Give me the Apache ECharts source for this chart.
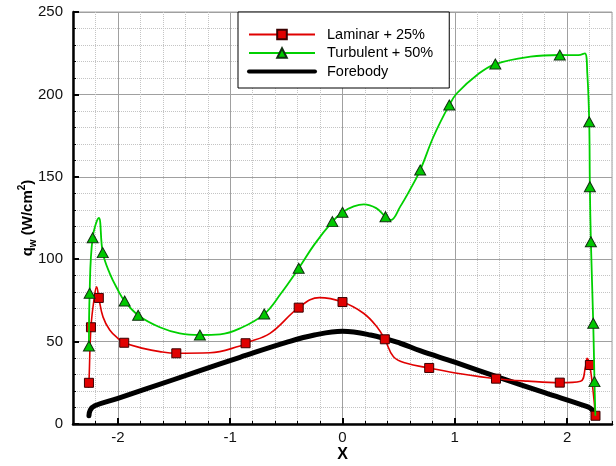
<!DOCTYPE html>
<html>
<head>
<meta charset="utf-8">
<script src="https://cdn.jsdelivr.net/npm/echarts@6/dist/echarts.min.js"></script>
<style>
  html, body { margin: 0; padding: 0; background: #fff; }
  #chart { width: 616px; height: 466px; }
</style>
</head>
<body>
<div id="chart"></div>
<script>
// Wall heat flux q_w along the body coordinate X

const xTicks = [-2, -1, 0, 1, 2];
const yTicks = [0, 50, 100, 150, 200, 250];

// Laminar + 25%: curve samples between stations, and the marked stations
const laminarX = [-2.262, -2.21, -2.19, -2.133, -2.073, -2.0, -1.776, -1.627, -1.18, -0.913, -0.646, -0.206, 0.187, 0.306, 0.454, 0.57, 1.05, 1.65, 2.12, 2.164, 2.179];
const laminarQ = [22, 77, 83.3, 65, 57, 52, 45.9, 43.9, 43.2, 47.3, 55, 76.7, 67.2, 59, 40.8, 36.8, 30.5, 26, 26, 34.8, 39.9];
const laminarMarkX = [-2.258, -2.24, -2.17, -1.944, -1.48, -0.863, -0.39, 0, 0.377, 0.772, 1.367, 1.935, 2.203, 2.253];
const laminarMarkQ = [25, 58.7, 76.5, 49.3, 42.9, 49, 70.6, 74, 51.4, 34, 27.5, 25.1, 35.8, 5];

// Turbulent + 50%
const turbX = [-2.17, -2.073, -2.0, -1.627, -1.449, -1.09, -0.913, -0.55, -0.25, 0.1, 0.19, 0.3, 0.43, 0.514, 0.6, 0.81, 1.019, 1.198, 1.673, 2.1, 2.158, 2.18, 2.252];
const turbQ = [125, 91.4, 81.3, 58.7, 55, 54.4, 58, 79, 109, 132, 133.3, 131, 123.8, 131.9, 142, 174.3, 200.7, 211.8, 222.9, 223.8, 224.9, 212.8, 5];
const turbMarkX = [-2.258, -2.252, -2.225, -2.135, -1.94, -1.82, -1.27, -0.697, -0.39, -0.09, 0, 0.383, 0.692, 0.951, 1.361, 1.935, 2.197, 2.203, 2.212, 2.233, 2.244];
const turbMarkQ = [47.3, 79.3, 113, 104, 74.6, 66, 54, 66.7, 94.5, 122.8, 128.5, 125.8, 154.1, 193.6, 218.4, 223.9, 183.4, 144, 110.6, 61.1, 25.7];

// Forebody
const foreX = [-2.258, -2.246, -2.207, -2.0, -1.5, -1.09, -0.913, -0.5, -0.25, 0, 0.25, 0.514, 0.69, 1.0, 1.405, 1.8, 2.18, 2.225, 2.253];
const foreQ = [5, 8.5, 11.1, 15.6, 27, 36.5, 40.5, 49.5, 54, 56.3, 54, 49, 44.5, 37.5, 28, 19, 10.5, 8.5, 5];

// merge curve samples (no symbol) with marked stations, ordered along X
function buildLine(cx, cq, mx, mq) {
  const pts = [];
  cx.forEach((x, i) => pts.push({ value: [x, cq[i]], symbol: 'none' }));
  mx.forEach((x, i) => pts.push({ value: [x, mq[i]] }));
  pts.sort((a, b) => a.value[0] - b.value[0]);
  return pts;
}

const minorGrid = '#c4c4c4';
const majorGrid = '#a0a0a0';
const textColor = '#111';
const font = 'Liberation Sans, Arial, sans-serif';

const chart = echarts.init(document.getElementById('chart'), null, { renderer: 'canvas' });

chart.setOption({
  animation: false,
  backgroundColor: '#fff',
  grid: {
    left: 73, right: 4, top: 12, bottom: 42,
    outerBoundsMode: 'none', containLabel: false,
    show: true, borderColor: majorGrid, borderWidth: 1, backgroundColor: 'transparent'
  },
  legend: {
    orient: 'vertical',
    left: 238, top: 12,
    backgroundColor: '#fff',
    borderColor: '#000', borderWidth: 1, borderRadius: 0,
    padding: [15, 16, 9, 9],
    itemWidth: 66, itemHeight: 12, itemGap: 3.5,
    textStyle: { fontFamily: font, fontSize: 14.5, color: '#000', padding: [0, 0, 0, 7] },
    data: [
      'Laminar + 25%',
      'Turbulent + 50%',
      { name: 'Forebody', itemStyle: { opacity: 0 }, lineStyle: { width: 4 } }
    ]
  },
  xAxis: [
    {
      // 0.2 subdivisions: dotted grid and short ticks
      type: 'value', min: -2.4, max: 2.4, interval: 0.2, position: 'bottom',
      axisLine: { show: true, onZero: false, lineStyle: { color: '#000', width: 2.5 } },
      axisTick: { show: true, inside: true, length: 3, lineStyle: { color: '#000', width: 1 } },
      axisLabel: { show: false },
      splitLine: { show: true, lineStyle: { type: 'dotted', width: 1, color: [minorGrid, minorGrid, 'transparent', minorGrid, minorGrid] } }
    },
    {
      // unit divisions: solid grid, long ticks, labels
      type: 'value', min: -2.4, max: 2.4, position: 'bottom',
      axisLine: { show: false, onZero: false },
      axisTick: { show: true, inside: true, length: 6, customValues: xTicks, lineStyle: { color: '#000', width: 2 } },
      axisLabel: { show: true, customValues: xTicks, margin: 6, fontFamily: font, fontSize: 15, color: textColor },
      splitLine: { show: true, lineStyle: { color: majorGrid, width: 1 } },
      name: 'X', nameLocation: 'middle', nameGap: 23, nameMoveOverlap: false,
      nameTextStyle: { fontFamily: font, fontSize: 16, fontWeight: 'bold', color: '#000' }
    }
  ],
  yAxis: {
    type: 'value', min: 0, max: 250, interval: 50,
    axisLine: { show: true, onZero: false, lineStyle: { color: '#000', width: 2.5 } },
    axisTick: { show: true, inside: true, length: 6, lineStyle: { color: '#000', width: 2 } },
    minorTick: { show: true, splitNumber: 5, length: 3, lineStyle: { color: '#000', width: 1 } },
    axisLabel: { margin: 10, fontFamily: font, fontSize: 15, color: textColor },
    splitLine: { show: true, lineStyle: { color: majorGrid, width: 1 } },
    minorSplitLine: { show: true, lineStyle: { type: 'dotted', color: minorGrid, width: 1 } },
    name: '{a|q}{b|w}{a| (W/cm}{c|2}{a|)}',
    nameLocation: 'middle', nameRotate: 90, nameGap: 35, nameMoveOverlap: false,
    nameTextStyle: {
      fontFamily: font, fontWeight: 'bold', color: '#000',
      rich: {
        a: { fontFamily: font, fontSize: 15, fontWeight: 'bold', lineHeight: 21, verticalAlign: 'middle', color: '#000' },
        b: { fontFamily: font, fontSize: 10, fontWeight: 'bold', lineHeight: 10, verticalAlign: 'bottom', color: '#000' },
        c: { fontFamily: font, fontSize: 10, fontWeight: 'bold', lineHeight: 10, verticalAlign: 'top', color: '#000' }
      }
    }
  },
  series: [
    {
      name: 'Forebody', type: 'line', xAxisIndex: 0,
      smooth: 0.4, symbol: 'none', z: 2,
      lineStyle: { color: '#000', width: 5, cap: 'round', join: 'round' },
      itemStyle: { color: '#000' },
      data: foreX.map((x, i) => [x, foreQ[i]])
    },
    {
      name: 'Laminar + 25%', type: 'line', xAxisIndex: 0,
      smooth: 0.4, symbol: 'rect', symbolSize: 9, showAllSymbol: true, z: 3,
      lineStyle: { color: '#e00000', width: 1.6 },
      itemStyle: { color: '#e00000', borderColor: '#3a0000', borderWidth: 1, opacity: 1 },
      data: buildLine(laminarX, laminarQ, laminarMarkX, laminarMarkQ)
    },
    {
      name: 'Turbulent + 50%', type: 'line', xAxisIndex: 0,
      smooth: 0.4, symbol: 'triangle', symbolSize: [11, 10], showAllSymbol: true, z: 4,
      lineStyle: { color: '#00d000', width: 1.8 },
      itemStyle: { color: '#00c800', borderColor: '#103010', borderWidth: 1, opacity: 1 },
      data: buildLine(turbX, turbQ, turbMarkX, turbMarkQ)
    }
  ]
});
</script>
</body>
</html>
